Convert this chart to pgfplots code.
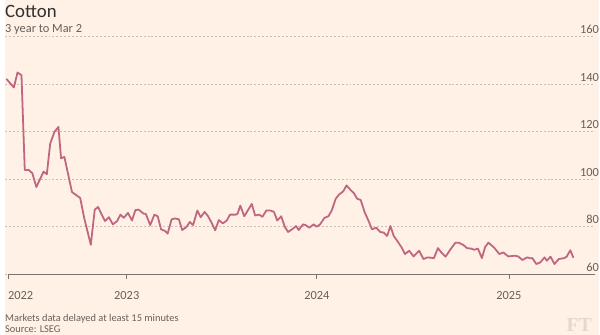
\documentclass[border=0pt]{standalone}
\usepackage{pgfplots}
\pgfplotsset{compat=1.18}
\usepackage{fontspec}
\setmainfont{Carlito}
\newfontfamily\ftserif{Liberation Serif}
\definecolor{bg}{HTML}{FFF1E5}
\definecolor{titlecol}{HTML}{33302E}
\definecolor{labcol}{HTML}{66605C}
\definecolor{gridcol}{HTML}{C9BFB5}
\definecolor{axiscol}{HTML}{7A736E}
\definecolor{linecol}{HTML}{C06680}
\definecolor{ftcol}{HTML}{E6D8CB}
\pgfplotstableread{
x y
1.7 142.1
9 138.6
12.7 144.9
16.7 143.75
20 103.9
24 103.9
27.7 102.5
31.7 96.7
39 103.2
42.3 102.1
45.7 115
50 119.9
54 122
56.7 108.75
60 109.4
67.7 94.6
76 92.1
80 83.75
86.7 72.4
90.7 87.2
94 88.3
101 82.4
105 84
109 81
113.3 82.4
116.7 85.1
120 83.75
124.3 85.8
128.3 82.6
131.7 87
135 87.2
140 85.5
142.3 85.4
146.7 80.7
151 85.1
154.3 84.4
157.7 78.9
161.7 78.2
164.3 77.1
168.3 83.1
171.7 83.5
175.7 83.1
179 78.6
183.3 79.9
186.7 82
190 80.7
194.3 86.8
197.7 84
201.7 86.25
205 84.5
208.3 82
212.3 78.5
216 82.8
220 81.4
224 82.6
227.3 85.1
233.3 85.1
235 85.5
237.7 88.9
241.7 84.4
249.3 89.6
252.7 84.7
256.7 85.1
260 84.2
264 86.8
268.3 86.8
271.7 86.25
275 82.6
279 84.4
282.7 79.9
286 77.8
290 78.9
294 80.3
296.7 78.6
301 81
303.5 80.7
307.5 79.6
311.7 81
315 80
318.3 81
322.7 83.75
326.7 84.4
330 86.8
334 91.7
337.3 93.5
341.7 94.9
345 97.4
349 95.5
352.3 94.2
355.7 91.8
359.3 91.25
363.3 86.1
367.3 82.4
370.7 78.9
375 79.6
379 77.8
382.7 77.5
386 76.1
389.3 80.3
392.7 76.1
396.7 73.75
400.7 71.25
404 68.5
408.3 69.9
412.7 67.5
418.3 69.9
422.7 66.4
426.7 67.1
433.3 66.8
437.3 71
440.7 69.2
445 67.4
450 70.5
455 73.3
458.3 73.3
462.7 72.4
466.7 71
470.7 70.8
474 70.3
477.7 70.8
481.7 66.8
485 71.5
488.3 73.3
494 71.25
499.3 68.5
503.3 69.2
508.3 67.5
515 67.8
518.3 67.5
522.7 66
527.3 67.1
530.7 66.7
532.7 66.8
536.7 64.3
540.7 65
545 67.1
547.3 65.7
551 67.4
555 64.3
559.3 66.4
565 66.8
567.3 67.4
571 70.1
574 67.1
}\cotton
\begin{document}
\begin{tikzpicture}[x=1bp,y=1bp]
\fill[bg] (0,0) rectangle (600,338);
\node[anchor=base west, inner sep=0pt, text=titlecol, font=\fontsize{19bp}{22bp}\selectfont] at (0,320) {Cotton};
\node[anchor=base west, inner sep=0pt, text=labcol, font=\fontsize{12.5bp}{15bp}\selectfont] at (0,305.5) {3 year to Mar 2};
\begin{axis}[
  at={(0bp,61bp)}, anchor=south west,
  scale only axis, width=596bp, height=240bp,
  xmin=0, xmax=596, ymin=60, ymax=160,
  clip=false,
  axis line style={draw=none},
  /pgf/number format/assume math mode=true,
  ymajorgrids, grid style={gridcol, line width=0.7bp, dash pattern=on 2bp off 2bp},
  ytick={60,80,...,160},
  ytick style={draw=none},
  yticklabel pos=right,
  yticklabel style={anchor=base east, inner sep=0pt, text=labcol, font=\fontsize{12.5bp}{15bp}\selectfont, yshift=3bp, xshift=-1bp},
  xtick={123,315,509},
  xticklabels={2023,2024,2025},
  extra x ticks={3},
  extra x tick labels={2022},
  extra x tick style={xticklabel style={anchor=base west}},
  xtick pos=bottom, tick align=outside, major tick length=5bp,
  xtick style={draw=axiscol, line width=0.8bp},
  xticklabel style={anchor=base, inner sep=0pt, text=labcol, font=\fontsize{12.5bp}{15bp}\selectfont, yshift=-20bp},
]
\draw[axiscol, line width=0.8bp] (axis cs:3,60) -- (axis cs:596,60);
\addplot[linecol, line width=1.8bp, line join=round, line cap=round, mark=none] table[x=x,y=y] {\cotton};
\end{axis}
\node[anchor=base west, inner sep=0pt, text=labcol, font=\fontsize{10.5bp}{12bp}\selectfont] at (0,13) {Markets data delayed at least 15 minutes};
\node[anchor=base west, inner sep=0pt, text=labcol, font=\fontsize{10.5bp}{12bp}\selectfont] at (0,2) {Source: LSEG};
\node[anchor=base east, inner sep=0pt, text=ftcol, font=\ftserif\bfseries\fontsize{20bp}{22bp}\selectfont] at (593,3.5) {FT};
\end{tikzpicture}
\end{document}
